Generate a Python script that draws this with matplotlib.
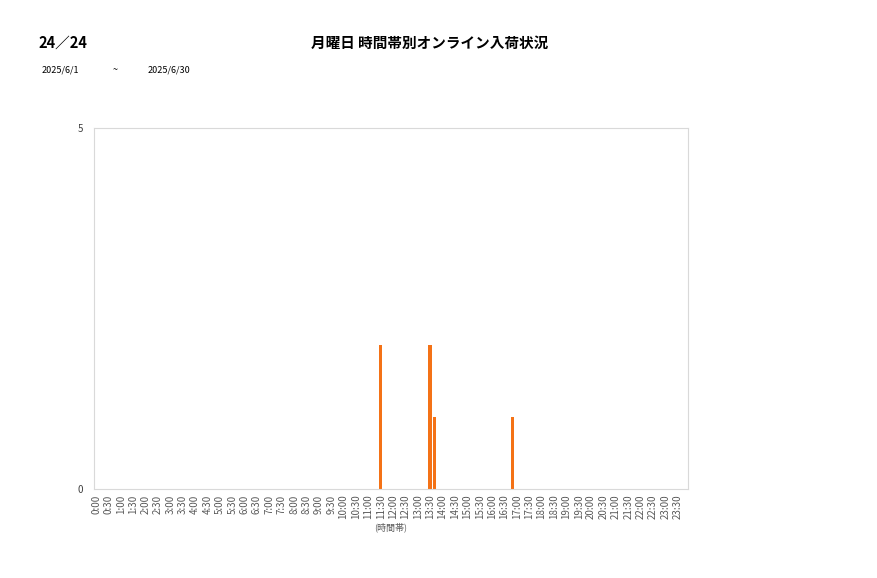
import numpy as np
import matplotlib
matplotlib.use('Agg')
import matplotlib.pyplot as plt

plt.rcParams['font.family'] = ['Noto Sans CJK JP', 'DejaVu Sans']

# 10分刻みの時間帯
slots = ['%d:%02d' % (h, m) for h in range(24) for m in (0, 10, 20, 30, 40, 50)]
# 入荷のあった時間帯と件数
hit_times = ['11:30', '13:30', '13:40', '16:50']
hit_counts = [2, 2, 1, 1]

counts = np.zeros(len(slots))
for t, c in zip(hit_times, hit_counts):
    counts[slots.index(t)] = c

page_no = '24／24'
title = '月曜日 時間帯別オンライン入荷状況'
date_from = '2025/6/1'
date_to = '2025/6/30'

fig = plt.figure(figsize=(8.77, 5.78), dpi=100)
ax = fig.add_axes([94/877, 1-489/578, 594/877, 361/578])

x = np.arange(len(slots))
ax.bar(x, counts, width=0.85, color='#F47216')
ax.set_xlim(-0.5, len(slots) - 0.5)
ax.set_ylim(0, 5)
ax.set_yticks([0, 5])
ax.set_xticks(x[::3])
ax.set_xticklabels(slots[::3], rotation=90, fontsize=7, color='#595959')
ax.tick_params(axis='y', labelsize=7, colors='#404040', length=0, pad=8)
ax.tick_params(axis='x', length=0, pad=4)
for s in ax.spines.values():
    s.set_color('#d9d9d9')
ax.set_xlabel('(時間帯)', fontsize=6.5, color='#595959', labelpad=2)

fig.text(38/877, 1-43/578, page_no, fontsize=10.5, fontweight='bold', va='center')
fig.text(430/877, 1-43/578, title, fontsize=10.5, fontweight='bold', va='center', ha='center')
fig.text(42/877, 1-70/578, date_from, fontsize=6.5, va='center')
fig.text(115/877, 1-70/578, '~', fontsize=6.5, va='center', ha='center')
fig.text(148/877, 1-70/578, date_to, fontsize=6.5, va='center')

fig.savefig('out.png', dpi=100)
